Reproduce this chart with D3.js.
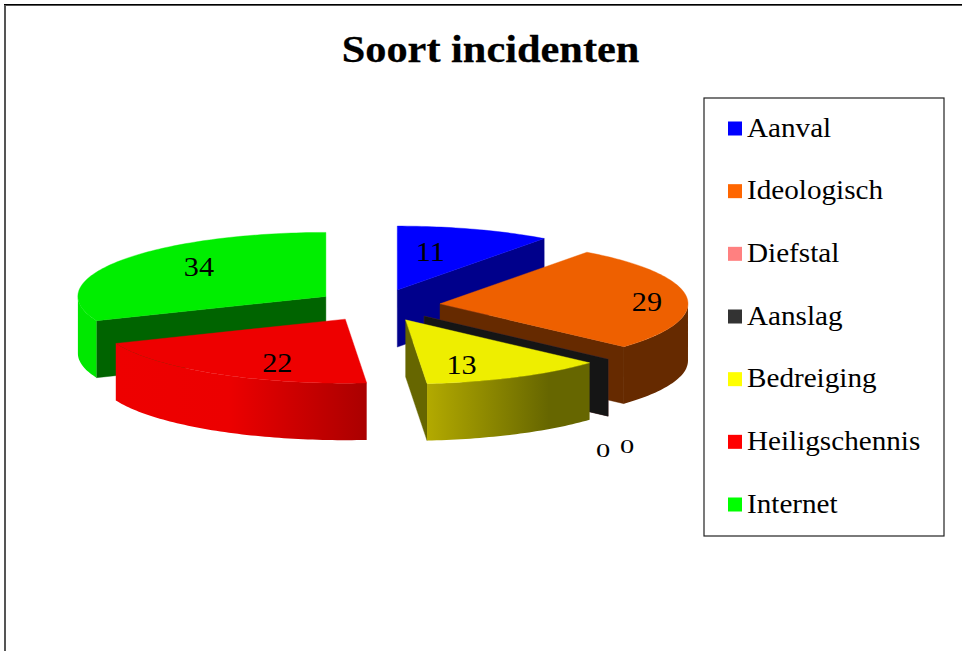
<!DOCTYPE html>
<html><head><meta charset="utf-8">
<script src="https://cdnjs.cloudflare.com/ajax/libs/d3/7.8.5/d3.min.js"></script>
<style>html,body{margin:0;padding:0;background:#fff;overflow:hidden}svg{display:block}text{font-family:"Liberation Serif",serif;fill:#000}</style>
</head><body><svg id="c" width="962" height="651"></svg>
<script>
const title = "Soort incidenten";
const categories = ["Aanval","Ideologisch","Diefstal","Aanslag","Bedreiging","Heiligschennis","Internet"];
const values = [11,29,0,0,13,22,34];
const swatchColors = ["#0000ff","#ff6600","#ff8080","#333333","#ffff00","#ff0000","#00ff00"];
const topColors = ["#0000ff","#ee6000","#ee7777","#2a2a2a","#eeee00","#ee0000","#00ee00"];
const edgeColors = ["#00008b","#662a00","#804040","#151515","#666600","#800000","#006400"];
const rimStops = [
  [[0,"#0000aa"],[1,"#0000aa"]],
  [[0,"#662a00"],[1,"#662a00"]],
  [[0,"#804040"],[1,"#804040"]],
  [[0,"#151515"],[1,"#151515"]],
  [[0,"#b3aa00"],[0.75,"#666600"],[1,"#666600"]],
  [[0,"#ee0000"],[0.45,"#ec0000"],[1,"#aa0000"]],
  [[0,"#00e800"],[1,"#00e800"]]
];
const drawOrder = ["Aanval","Internet","Ideologisch","Diefstal","Aanslag","Heiligschennis","Bedreiging"];
// label placement relative to each wedge's apex (layout only)
const labelNudge = {Aanval:[33,-29],Ideologisch:[207,7],Diefstal:[179,141],Aanslag:[203,137],Bedreiging:[56,54],Heiligschennis:[-68,53],Internet:[-127,-20]};

const svg = d3.select("#c");
const defs = svg.append("defs");
const cx=377.8, cy=305.4, rx=248, ry=64, depth=57, explode=62.5;

// wide-set text: the reference face is broader than the installed serif
const wideText=(sel,str,x,y,size,k,anchor)=>sel.append("text").text(str)
  .attr("transform",`translate(${x},${y}) scale(${k},1)`)
  .attr("text-anchor",anchor).attr("font-size",size);

// page frame
svg.append("path").attr("d","M5,651V5H962").attr("fill","none").attr("stroke","#555").attr("stroke-width",2);
svg.append("line").attr("x1",4).attr("x2",962).attr("y1",4.5).attr("y2",4.5).attr("stroke","#000").attr("stroke-width",1);

wideText(svg,title,490.5,62,38,1.115,"middle").attr("font-weight","bold").attr("stroke","#000").attr("stroke-width",0.25);

const arcs = d3.pie().value(d=>d).sort(null)(values);
const slices = arcs.map((a,i)=>{
  const mid=(a.startAngle+a.endAngle)/2;
  const ax=cx+explode*Math.sin(mid), ay=cy-explode*(ry/rx)*Math.cos(mid);
  return {i,name:categories[i],a0:a.startAngle,a1:a.endAngle,ax,ay};
});
const line=d3.line();
const rim=(s,t,dy=0)=>[s.ax+rx*Math.sin(t), s.ay-ry*Math.cos(t)+dy];
const sweep=(s,t0,t1,dy=0)=>{
  const n=Math.max(2,Math.ceil((t1-t0)/0.02));
  return d3.range(n+1).map(k=>rim(s,t0+(t1-t0)*k/n,dy));
};
const edgeWall=(s,t)=>[[s.ax,s.ay],rim(s,t),rim(s,t,depth),[s.ax,s.ay+depth]];

rimStops.forEach((stops,i)=>{
  const g=defs.append("linearGradient").attr("id","rim"+i).attr("x1",0).attr("x2",1).attr("y1",0).attr("y2",0);
  stops.forEach(st=>g.append("stop").attr("offset",st[0]).attr("stop-color",st[1]));
});

const layer=svg.append("g");
drawOrder.forEach(name=>{
  const s=slices[categories.indexOf(name)];
  const g=layer.append("g");
  const wall=(pts,col)=>g.append("path").attr("d",line(pts)+"Z").attr("fill",col).attr("stroke",col).attr("stroke-width",0.4);
  if(Math.sin(s.a0)<-1e-6) wall(edgeWall(s,s.a0),edgeColors[s.i]);
  if(Math.sin(s.a1)>1e-6) wall(edgeWall(s,s.a1),edgeColors[s.i]);
  const t0=Math.max(s.a0,Math.PI/2), t1=Math.min(s.a1,1.5*Math.PI);
  if(t1>t0){
    const pts=sweep(s,t0,t1).concat(sweep(s,t0,t1,depth).reverse());
    g.append("path").attr("d",line(pts)+"Z").attr("fill",`url(#rim${s.i})`);
  }
  if(s.a1>s.a0){
    const pts=[[s.ax,s.ay]].concat(sweep(s,s.a0,s.a1));
    wall(pts,topColors[s.i]);
  }
});

const labels=svg.append("g");
slices.forEach(s=>{
  const n=labelNudge[s.name];
  const zero=values[s.i]===0;
  wideText(labels,values[s.i],s.ax+n[0],s.ay+n[1],zero?19:27,zero?1.5:1.12,"middle");
});

const lg=svg.append("g");
lg.append("rect").attr("x",704).attr("y",98).attr("width",240).attr("height",438).attr("fill","#fff").attr("stroke","#222").attr("stroke-width",1.2);
const rowY=d3.scalePoint().domain(categories).range([128.5,504.5]);
categories.forEach((c,i)=>{
  lg.append("rect").attr("x",728).attr("y",rowY(c)-7).attr("width",14).attr("height",14).attr("fill",swatchColors[i]);
  wideText(lg,c,747,rowY(c)+8,27,1.08,"start");
});
</script></body></html>
